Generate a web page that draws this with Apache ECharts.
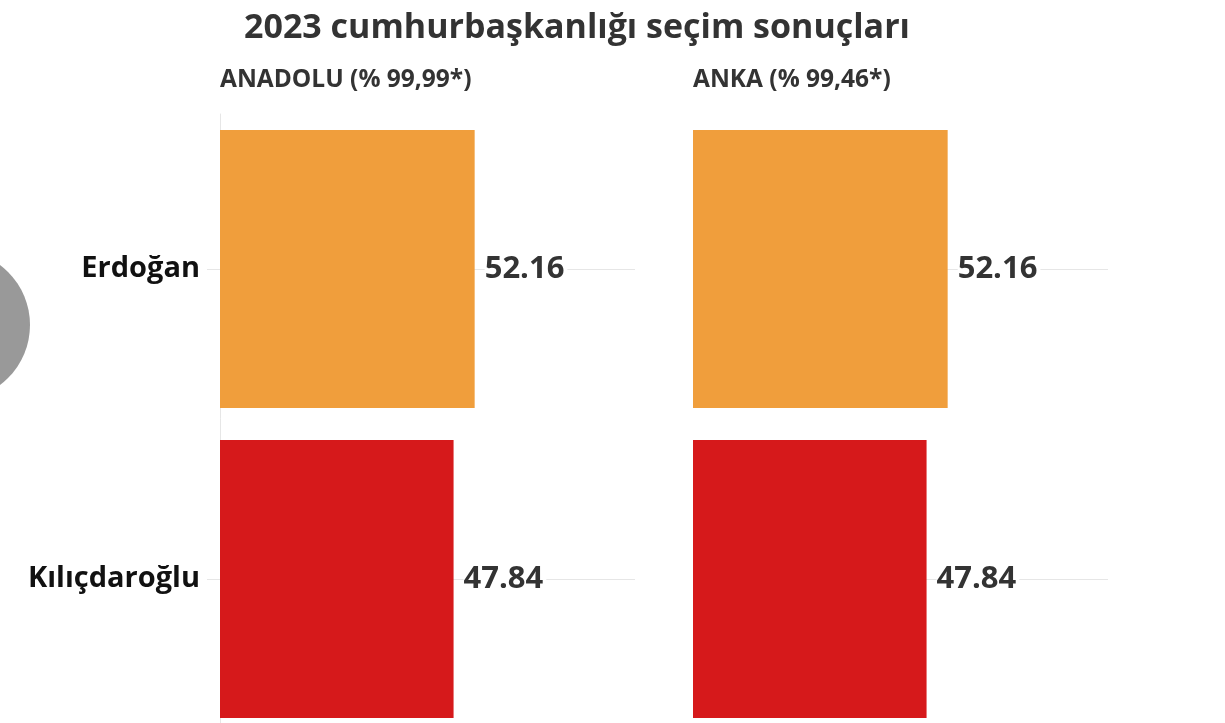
<!DOCTYPE html>
<html>
<head>
<meta charset="utf-8">
<script src="https://cdn.jsdelivr.net/npm/echarts@6/dist/echarts.min.js"></script>
<style>
html,body{margin:0;padding:0;background:#fff;}
#main{width:1225px;height:723px;}
</style>
</head>
<body>
<div id="main"></div>
<script>
const chartTitle = '2023 cumhurbaşkanlığı seçim sonuçları';
const panelTitles = ['ANADOLU (% 99,99*)', 'ANKA (% 99,46*)'];
const categories = ['Erdoğan', 'Kılıçdaroğlu'];
const anadoluValues = [52.16, 47.84];
const ankaValues = [52.16, 47.84];
const candidateColors = ['#F09E3C', '#D6191B'];
const valueMax = 85;

const FONT = '"Open Sans", "Noto Sans", sans-serif';
const chart = echarts.init(document.getElementById('main'), null, {renderer: 'canvas'});

function makeSeries(values, idx) {
  return {
    type: 'bar',
    xAxisIndex: idx,
    yAxisIndex: idx,
    barCategoryGap: '10.3%',
    z: 2,
    data: values.map((v, i) => ({value: v, itemStyle: {color: candidateColors[i]}})),
    label: {
      show: true,
      position: 'right',
      distance: 10,
      formatter: p => p.value.toFixed(2),
      fontFamily: FONT,
      fontWeight: 'bold',
      fontSize: 31,
      color: '#333333',
      backgroundColor: '#ffffff',
      padding: [0, 3, 0, 0]
    },
    markLine: {
      silent: true,
      symbol: 'none',
      z: 1,
      label: {show: false},
      lineStyle: {color: '#e6e6e6', width: 1, type: 'solid'},
      data: categories.map(c => ({yAxis: c}))
    }
  };
}

const grids = [
  {left: 220, top: 114, width: 415, height: 620, outerBoundsMode: 'none', containLabel: false},
  {left: 693, top: 114, width: 415, height: 620, outerBoundsMode: 'none', containLabel: false}
];

chart.setOption({
  backgroundColor: '#ffffff',
  animation: false,
  title: [
    {text: chartTitle, left: 577, top: 11, textAlign: 'center', padding: 0,
     textStyle: {fontFamily: FONT, fontWeight: 'bold', fontSize: 34, color: '#333333'}},
    {text: panelTitles[0], left: 220, top: 68, padding: 0,
     textStyle: {fontFamily: FONT, fontWeight: 'bold', fontSize: 24.5, color: '#333333'}},
    {text: panelTitles[1], left: 693, top: 68, padding: 0,
     textStyle: {fontFamily: FONT, fontWeight: 'bold', fontSize: 24.5, color: '#333333'}}
  ],
  graphic: [
    {type: 'circle', shape: {cx: -45, cy: 325, r: 75}, style: {fill: '#999999'}, z: 0}
  ],
  grid: grids,
  xAxis: [0, 1].map(i => ({
    type: 'value', gridIndex: i, min: 0, max: valueMax,
    axisLine: {show: false}, axisTick: {show: false}, axisLabel: {show: false},
    splitLine: {show: false}
  })),
  yAxis: [0, 1].map(i => ({
    type: 'category', gridIndex: i, inverse: true, data: categories,
    axisLine: {show: i === 0, lineStyle: {color: '#e6e6e6', width: 1}},
    axisTick: {show: i === 0, alignWithLabel: true, length: 13, lineStyle: {color: '#e6e6e6'}},
    axisLabel: {
      show: i === 0, margin: 20,
      fontFamily: FONT, fontWeight: 'bold', fontSize: 29, color: '#111111'
    },
    splitLine: {show: false}
  })),
  series: [makeSeries(anadoluValues, 0), makeSeries(ankaValues, 1)]
});
</script>
</body>
</html>
